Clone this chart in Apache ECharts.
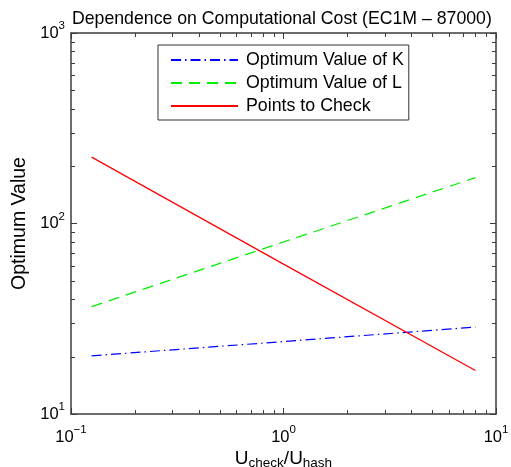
<!DOCTYPE html>
<html>
<head>
<meta charset="utf-8">
<script src="https://cdn.jsdelivr.net/npm/echarts@6/dist/echarts.min.js"></script>
<style>
  html, body { margin: 0; padding: 0; background: #fff; }
  #chart { width: 511px; height: 467px; }
</style>
</head>
<body>
<div id="chart"></div>
<script>
// U_check / U_hash ratios at which the optimum was evaluated
const costRatio = [0.125, 1, 8];
// optimum parameters for each ratio
const optimumK = [20.2, 24.0, 28.6];
const optimumL = [36.6, 80.0, 174];
const pointsToCheck = [223, 61.2, 16.9];

// decade exponents shown as tick labels
const xTickExp = [-1, 0, 1];
const yTickExp = [1, 2, 3];

const FONT = 'Liberation Sans, Arial, Helvetica, sans-serif';
const AXIS_COLOR = '#3c3c3c';

function pairs(xs, ys) { return xs.map((x, i) => [x, ys[i]]); }

function expLabel(v, exps) {
  const e = Math.round(Math.log10(v));
  if (exps.indexOf(e) < 0) return '';
  const s = e < 0 ? '\u2212' + (-e) : String(e);
  return '{b|10}{e|' + s + '}';
}

const tickRich = {
  b: { fontSize: 16.5, fontFamily: FONT, color: '#000' },
  e: { fontSize: 11.5, fontFamily: FONT, color: '#000', padding: [0, 0, 14, 0] }
};

// minor ticks at 2..9 within each decade
const xMinor = [];
for (let k = -1; k <= 0; k++) for (let m = 2; m <= 9; m++) xMinor.push(m * Math.pow(10, k));
const yMinor = [];
for (let k = 1; k <= 2; k++) for (let m = 2; m <= 9; m++) yMinor.push(m * Math.pow(10, k));
const minorData = xMinor.map(v => [v, 100, 0]).concat(yMinor.map(v => [1, v, 1]));

const chart = echarts.init(document.getElementById('chart'), null, { renderer: 'canvas' });

const axisLine = { show: true, lineStyle: { color: AXIS_COLOR, width: 1.5 } };

chart.setOption({
  backgroundColor: '#fff',
  animation: false,
  title: {
    text: 'Dependence on Computational Cost (EC1M \u2013 87000)',
    left: 67, top: 5,
    textStyle: { fontFamily: FONT, fontSize: 17.7, fontWeight: 'normal', color: '#000' }
  },
  grid: { left: 71, right: 15, top: 33, bottom: 53, outerBoundsMode: 'none', containLabel: false },
  legend: {
    data: ['Optimum Value of K', 'Optimum Value of L', 'Points to Check'],
    orient: 'vertical',
    left: 158, top: 45,
    padding: [6, 5, 5, 12],
    itemGap: 5,
    itemWidth: 67,
    itemHeight: 14,
    itemStyle: { opacity: 0 },
    borderColor: '#333',
    borderWidth: 1,
    backgroundColor: '#fff',
    textStyle: { fontFamily: FONT, fontSize: 17.8, color: '#000', padding: [0, 0, 0, 3] }
  },
  xAxis: [{
    type: 'log', logBase: 10, min: 0.1, max: 10,
    position: 'bottom',
    name: '{u|U}{s|check}{u|/U}{s|hash}',
    nameLocation: 'middle', nameGap: 34, nameMoveOverlap: false,
    nameTextStyle: {
      rich: {
        u: { fontSize: 19, fontFamily: FONT, color: '#000' },
        s: { fontSize: 13.5, fontFamily: FONT, color: '#000', padding: [8, 0, 0, 0] }
      }
    },
    axisLine: axisLine,
    axisTick: { inside: true, length: 6, lineStyle: { color: AXIS_COLOR, width: 1 } },
    axisLabel: { margin: 10, formatter: v => expLabel(v, xTickExp), rich: tickRich },
    splitLine: { show: false },
    minorTick: { show: false }
  }, {
    type: 'log', logBase: 10, min: 0.1, max: 10,
    position: 'top',
    axisLine: axisLine,
    axisTick: { inside: true, length: 6, lineStyle: { color: AXIS_COLOR, width: 1 } },
    axisLabel: { show: false },
    splitLine: { show: false }
  }],
  yAxis: [{
    type: 'log', logBase: 10, min: 10, max: 1000,
    position: 'left',
    name: 'Optimum Value',
    nameLocation: 'middle', nameGap: 40, nameRotate: 90,
    nameTextStyle: { fontFamily: FONT, fontSize: 19.5, color: '#000' },
    axisLine: axisLine,
    axisTick: { inside: true, length: 6, lineStyle: { color: AXIS_COLOR, width: 1 } },
    axisLabel: { margin: 6, formatter: v => expLabel(v, yTickExp), rich: tickRich },
    splitLine: { show: false }
  }, {
    type: 'log', logBase: 10, min: 10, max: 1000,
    position: 'right',
    axisLine: axisLine,
    axisTick: { inside: true, length: 6, lineStyle: { color: AXIS_COLOR, width: 1 } },
    axisLabel: { show: false },
    splitLine: { show: false }
  }],
  series: [{
    name: 'Optimum Value of K',
    type: 'line',
    data: pairs(costRatio, optimumK),
    symbol: 'none',
    color: '#0000ff',
    lineStyle: { color: '#0000ff', width: 1.2, type: [10, 4, 1.5, 4] },
    z: 3
  }, {
    name: 'Optimum Value of L',
    type: 'line',
    data: pairs(costRatio, optimumL),
    symbol: 'none',
    color: '#00ee00',
    lineStyle: { color: '#00ee00', width: 1.2, type: [11, 7] },
    z: 3
  }, {
    name: 'Points to Check',
    type: 'line',
    data: pairs(costRatio, pointsToCheck),
    symbol: 'none',
    color: '#ff0000',
    lineStyle: { color: '#ff0000', width: 1.2 },
    z: 3
  }, {
    name: 'minor ticks',
    type: 'custom',
    silent: true,
    clip: false,
    z: 1,
    data: minorData,
    encode: { x: 0, y: 1 },
    renderItem: function (params, api) {
      const cs = params.coordSys;
      const L = 4;
      const style = { stroke: AXIS_COLOR, lineWidth: 1 };
      if (api.value(2) === 0) {
        const px = Math.round(api.coord([api.value(0), 100])[0]) + 0.5;
        return { type: 'group', children: [
          { type: 'line', shape: { x1: px, y1: cs.y + cs.height, x2: px, y2: cs.y + cs.height - L }, style: style },
          { type: 'line', shape: { x1: px, y1: cs.y, x2: px, y2: cs.y + L }, style: style }
        ] };
      }
      const py = Math.round(api.coord([1, api.value(1)])[1]) + 0.5;
      return { type: 'group', children: [
        { type: 'line', shape: { x1: cs.x, y1: py, x2: cs.x + L, y2: py }, style: style },
        { type: 'line', shape: { x1: cs.x + cs.width, y1: py, x2: cs.x + cs.width - L, y2: py }, style: style }
      ] };
    }
  }]
});
</script>
</body>
</html>
